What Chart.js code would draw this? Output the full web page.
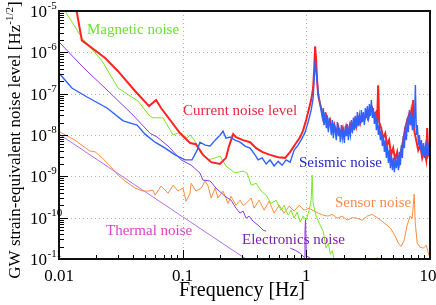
<!DOCTYPE html>
<html>
<head>
<meta charset="utf-8">
<script src="https://cdn.jsdelivr.net/npm/chart.js@4/dist/chart.umd.min.js"></script>
<style>
  body { margin: 0; background: #fff; }
  canvas { display: block; }
</style>
</head>
<body>
<canvas id="chart" width="436" height="305"></canvas>
<script>
// DATOS (frecuencia en Hz, nivel en Hz^-1/2)
var currentFreq = [0.0135, 0.0153, 0.0236, 0.030, 0.0412, 0.0535, 0.061, 0.0669, 0.0953, 0.115,
  0.128, 0.146, 0.170, 0.200, 0.224, 0.237, 0.256, 0.270, 0.308, 0.351,
  0.393, 0.439, 0.509, 0.592, 0.674, 0.740, 0.827, 0.891, 0.942, 0.996,
  1.054, 1.094, 1.135, 1.156, 1.178, 1.200, 1.223, 1.246, 1.293, 1.343,
  1.39, 1.446, 1.50, 1.558, 1.617, 1.679, 1.742, 1.81, 1.876, 1.95,
  2.02, 2.10, 2.18, 2.26, 2.35, 2.44, 2.53, 2.62, 2.72, 2.83,
  2.94, 3.05, 3.16, 3.28, 3.40, 3.54, 3.67, 3.74, 3.81, 3.88,
  4.03, 4.18, 4.35, 4.50, 4.67, 4.85, 5.04, 5.23, 5.43, 5.63,
  5.85, 6.07, 6.30, 6.54, 6.79, 6.91, 7.04, 7.18, 7.31, 7.45,
  7.73, 8.03, 8.33, 8.65, 8.98, 9.32, 9.49, 9.67, 10];
var currentLevel = [1.6e-5, 1.95e-6, 7.3e-7, 3.5e-7, 1.16e-7, 5.0e-8, 7.0e-8, 4.5e-8, 1.1e-8, 6.4e-9,
  6.0e-9, 3.3e-9, 2.2e-9, 2.0e-9, 2.8e-9, 5.4e-9, 1.05e-8, 8.9e-9, 7.5e-9, 6.7e-9,
  4.8e-9, 3.9e-9, 3.3e-9, 2.9e-9, 2.8e-9, 3.9e-9, 6.4e-9, 8.9e-9, 1.3e-8, 2.3e-8,
  4.5e-8, 7.0e-8, 1.37e-7, 3.7e-7, 1.4e-6, 6.5e-7, 2.1e-7, 9.2e-8, 5.6e-8, 3.6e-8,
  2.05e-8, 2.9e-8, 1.64e-8, 2.3e-8, 1.3e-8, 1.84e-8, 1.17e-8, 1.64e-8, 1.05e-8, 1.47e-8,
  9.4e-9, 1.64e-8, 1.1e-8, 1.84e-8, 1.3e-8, 2.3e-8, 1.55e-8, 2.6e-8, 1.84e-8, 2.9e-8,
  2.2e-8, 3.4e-8, 2.4e-8, 3.8e-8, 4.5e-8, 3.0e-8, 3.6e-8, 2.3e-8, 1.6e-7, 2.05e-8,
  1.47e-8, 8.4e-9, 1.1e-8, 5.7e-9, 7.5e-9, 3.3e-9, 4.8e-9, 2.5e-9, 3.9e-9, 2.1e-9,
  4.3e-9, 7.5e-9, 1.47e-8, 2.3e-8, 3.2e-8, 2.3e-8, 3.6e-8, 1.74e-8, 7.0e-8, 1.3e-8,
  7.5e-9, 4.3e-9, 5.7e-9, 2.8e-9, 4.3e-9, 2.5e-9, 1.47e-8, 3.3e-9, 4.3e-9];

var seismicFreq = [0.01, 0.0127, 0.01685, 0.02445, 0.033, 0.0428, 0.0496, 0.0598, 0.0721, 0.0868,
  0.1045, 0.119, 0.131, 0.138, 0.152, 0.167, 0.183, 0.201, 0.212, 0.224,
  0.242, 0.265, 0.291, 0.320, 0.351, 0.385, 0.407, 0.439, 0.473, 0.509,
  0.549, 0.592, 0.637, 0.686, 0.740, 0.797, 0.858, 0.925, 0.978, 1.034,
  1.094, 1.135, 1.178, 1.20, 1.246, 1.298,
  1.347, 1.372, 1.398, 1.424, 1.451, 1.479, 1.507, 1.535, 1.564, 1.594,
  1.624, 1.654, 1.685, 1.717, 1.749, 1.782, 1.816, 1.849, 1.884, 1.920,
  1.956, 1.993, 2.030, 2.068, 2.107, 2.147, 2.187, 2.228, 2.270, 2.313,
  2.357, 2.401, 2.446, 2.492, 2.539, 2.587, 2.635, 2.685, 2.735, 2.786,
  2.839, 2.892, 2.947, 3.002, 3.058, 3.116, 3.174, 3.234, 3.295, 3.357,
  3.420, 3.484, 3.550, 3.616, 3.684, 3.754, 3.824, 3.896, 3.970, 4.044,
  4.120, 4.198, 4.277, 4.357, 4.439, 4.523, 4.608, 4.694, 4.783, 4.873,
  4.964, 5.058, 5.152, 5.249, 5.348, 5.448, 5.551, 5.655, 5.762, 5.870,
  5.980, 6.093, 6.207, 6.324, 6.443, 6.564, 6.687, 6.813, 6.941, 7.071,
  7.204, 7.339, 7.478, 7.618, 7.762, 7.907, 8.056, 8.207, 8.362, 8.519,
  8.679, 8.842, 9.008, 9.178, 9.350, 9.526, 9.707, 9.888, 10.0];
var seismicLevel = [3.15e-7, 1.37e-7, 8.3e-8, 4.5e-8, 2.2e-8, 1.74e-8, 1.05e-8, 6.7e-9, 4.8e-9, 3.3e-9,
  2.5e-9, 2.5e-9, 4.3e-9, 6.7e-9, 5.7e-9, 5.4e-9, 7.5e-9, 1.0e-8, 1.24e-8, 8.4e-9,
  8.9e-9, 7.5e-9, 6.7e-9, 5.4e-9, 4.8e-9, 3.3e-9, 2.5e-9, 2.8e-9, 2.0e-9, 2.5e-9,
  1.78e-9, 2.3e-9, 1.85e-9, 2.5e-9, 2.2e-9, 4.3e-9, 5.7e-9, 8.4e-9, 1.17e-8, 2.05e-8,
  4.0e-8, 7.8e-8, 6.5e-7, 3.3e-7, 1.09e-7, 5.0e-8,
  2.6e-8, 4.5e-8, 1.74e-8, 3.6e-8, 1.47e-8, 3.0e-8, 1.17e-8, 2.6e-8, 1.64e-8, 1.0e-8,
  2.3e-8, 8.4e-9, 1.84e-8, 1.1e-8, 7.5e-9, 2.05e-8, 9.4e-9, 1.47e-8, 6.7e-9, 1.74e-8,
  8.4e-9, 1.3e-8, 6.4e-9, 1.64e-8, 9.4e-9, 1.84e-8, 7.5e-9, 1.47e-8, 1.0e-8, 2.3e-8,
  1.1e-8, 2.6e-8, 1.3e-8, 2.9e-8, 1.47e-8, 3.6e-8, 1.64e-8, 3.0e-8, 1.84e-8, 4.0e-8,
  2.05e-8, 3.6e-8, 1.74e-8, 4.5e-8, 2.6e-8, 5.0e-8, 2.2e-8, 5.6e-8, 2.9e-8, 7.0e-8,
  2.6e-8, 4.5e-8, 1.84e-8, 3.6e-8, 1.3e-8, 2.6e-8, 1.0e-8, 1.74e-8, 7.5e-9, 1.3e-8,
  5.4e-9, 9.4e-9, 3.9e-9, 7.5e-9, 2.8e-9, 5.7e-9, 2.1e-9, 4.3e-9, 1.58e-9, 3.3e-9,
  1.41e-9, 2.8e-9, 1.26e-9, 2.5e-9, 1.58e-9, 3.3e-9, 1.41e-9, 3.9e-9, 1.87e-9, 5.7e-9,
  2.8e-9, 9.4e-9, 4.8e-9, 1.64e-8, 7.5e-9, 2.6e-8, 1.17e-8, 4.0e-8, 1.74e-8, 3.6e-8,
  1.3e-8, 3.0e-8, 1.47e-8, 1.62e-7, 1.0e-8, 1.74e-8, 5.7e-9, 1.0e-8, 4.3e-9, 7.5e-9,
  3.3e-9, 6.4e-9, 2.8e-9, 5.7e-9, 3.9e-9, 7.5e-9, 3.3e-9, 5.7e-9, 4.3e-9];

var magneticFreq = [0.01, 0.0112, 0.0154, 0.0223, 0.030, 0.0436, 0.0535, 0.0576, 0.0694, 0.0836,
  0.0953, 0.1085, 0.1148, 0.126, 0.141, 0.1605, 0.183, 0.201, 0.224, 0.265,
  0.308, 0.332, 0.358, 0.393, 0.431, 0.473, 0.519, 0.570, 0.625, 0.661,
  0.713, 0.754, 0.797, 0.842, 0.891, 0.942, 0.996, 1.054, 1.094, 1.114,
  1.135, 1.20, 1.27, 1.368, 1.446, 1.507, 1.564, 1.624, 1.685, 1.749,
  3.70, 3.75, 3.80];
var magneticLevel = [1.65e-5, 1.0e-5, 2.2e-6, 6.2e-7, 1.37e-7, 6.6e-8, 3.0e-8, 2.6e-8, 2.6e-8, 1.0e-8,
  1.17e-8, 8.4e-9, 1.0e-8, 7.1e-9, 3.6e-9, 2.5e-9, 2.8e-9, 3.1e-9, 1.77e-9, 1.2e-9,
  1.34e-9, 1.2e-9, 6.1e-10, 6.8e-10, 4.4e-10, 3.5e-10, 2.2e-10, 2.65e-10, 1.5e-10, 2.0e-10,
  1.15e-10, 1.5e-10, 9.7e-11, 1.36e-10, 7.8e-11, 1.09e-10, 8.7e-11, 1.5e-10, 2.65e-10, 1.07e-9,
  2.2e-10, 1.09e-10, 7.4e-11, 4.7e-11, 1.83e-11, 2.4e-11, 1.3e-11, 1.6e-11, 8.4e-12, 4e-12,
  8e-12, 1.1e-11, 8e-12];

var electronicsFreq = [0.01, 0.0156, 0.0259, 0.0398, 0.0545, 0.0621, 0.0762, 0.0971, 0.117, 0.138,
  0.146, 0.167, 0.186, 0.220, 0.246, 0.270, 0.291, 0.308, 0.326, 0.345,
  0.371, 0.407, 0.447, 0.473, 0.60, 0.740, 0.813, 0.891, 0.96, 0.975,
  0.985, 1.0, 1.073, 1.135, 1.2];
var electronicsLevel = [1.78e-6, 4.4e-7, 1.04e-7, 3.0e-8, 1.1e-8, 8.9e-9, 5.4e-9, 2.5e-9, 1.87e-9, 1.2e-9,
  8.1e-10, 7.7e-10, 5.2e-10, 3.3e-10, 2.65e-10, 1.7e-10, 1.29e-10, 1.44e-10, 9.7e-11, 1.09e-10,
  8.2e-11, 6.6e-11, 5.0e-11, 4.7e-11, null, 1.83e-11, 1.63e-11, 1.38e-11, 1.1e-11, 4.5e-11,
  9.5e-11, 1.2e-11, 1.05e-11, 8.4e-12, 5e-12];

var sensorFreq = [0.01, 0.0106, 0.0135, 0.0156, 0.0178, 0.0196, 0.0223, 0.0259, 0.030, 0.0342,
  0.0412, 0.0478, 0.0525, 0.0576, 0.0598, 0.0669, 0.0762, 0.0836, 0.0918, 0.1007,
  0.1065, 0.1148, 0.117, 0.128, 0.141, 0.152, 0.1605, 0.170, 0.183, 0.193,
  0.212, 0.233, 0.246, 0.270, 0.291, 0.308, 0.326, 0.358, 0.378, 0.415,
  0.456, 0.50, 0.549, 0.603, 0.661, 0.726, 0.797, 0.874, 0.96, 1.054,
  1.156, 1.246, 1.368, 1.50, 1.617, 1.775, 1.948, 2.138, 2.345, 2.576,
  2.828, 3.11, 3.405, 3.74, 4.18, 4.78, 5.23, 5.55, 5.85, 6.18,
  6.54, 6.91, 7.18, 7.45, 7.59, 7.88, 8.33, 8.84, 9.32, 9.67, 10];
var sensorLevel = [1.24e-8, 1.1e-8, 7.5e-9, 5.4e-9, 4.1e-9, 3.9e-9, 2.8e-9, 1.78e-9, 1.07e-9, 7.7e-10,
  5.2e-10, 4.4e-10, 4.4e-10, 4.6e-10, 3.5e-10, 5.8e-10, 3.9e-10, 6.1e-10, 4.4e-10, 5.2e-10,
  2.5e-10, 3.9e-10, 6.8e-10, 4.4e-10, 5.2e-10, 7.7e-10, 5.8e-10, 3.0e-10, 5.2e-10, 3.0e-10,
  4.4e-10, 2.2e-10, 3.3e-10, 2.0e-10, 2.65e-10, 2.0e-10, 2.2e-10, 3.0e-10, 1.7e-10, 2.65e-10,
  1.52e-10, 2.5e-10, 1.29e-10, 2.0e-10, 1.29e-10, 1.9e-10, 1.44e-10, 2.0e-10, 1.52e-10, 1.7e-10,
  1.44e-10, 1.29e-10, 1.15e-10, 1.09e-10, 1.2e-10, 9.7e-11, 1.09e-10, 8.7e-11, 1.0e-10, 9.7e-11,
  8.7e-11, 1.09e-10, 1.2e-10, 1.0e-10, 7.8e-11, 5.6e-11, 3.6e-11, 2.4e-11, 2.0e-11, 2.85e-11,
  6.6e-11, 1.09e-10, 9.7e-11, 3.7e-10, 7.8e-11, 2.4e-11, 1.93e-11, 1.83e-11, 2.16e-11, 1.46e-11, 1.05e-11];

var thermalFreq = [0.01, 0.1, 0.4];
var thermalLevel = [1.05e-8, 1.05e-10, 6.6e-12];

// ejes
var xTickLabels = ['0.01', '0.1', '1', '10'];
var xTickValues = [0.01, 0.1, 1, 10];
var yTickExponents = [-5, -6, -7, -8, -9, -10, -11];

var FONT = '"Liberation Serif", "DejaVu Serif", serif';

function puntos(fs, vs) {
  return fs.map(function (f, i) { return { x: f, y: vs[i] }; });
}

function serie(fs, vs, color, ancho, orden) {
  return {
    data: puntos(fs, vs),
    showLine: true,
    borderColor: color,
    borderWidth: ancho,
    pointRadius: 0,
    clip: 0,
    order: orden
  };
}

// textos, rejilla, marcas y bordes
var decorado = {
  id: 'decorado',
  beforeDatasetsDraw: function (chart) {
    var ctx = chart.ctx, a = chart.chartArea, sx = chart.scales.x, sy = chart.scales.y;
    ctx.save();
    ctx.strokeStyle = '#b4b4b4';
    ctx.lineWidth = 1;
    ctx.setLineDash([1, 3]);
    [0.1, 1].forEach(function (v) {
      var p = Math.round(sx.getPixelForValue(v)) + 0.5;
      ctx.beginPath(); ctx.moveTo(p, a.top); ctx.lineTo(p, a.bottom); ctx.stroke();
    });
    [1e-10, 1e-9, 1e-8, 1e-7, 1e-6].forEach(function (v) {
      var p = Math.round(sy.getPixelForValue(v)) + 0.5;
      ctx.beginPath(); ctx.moveTo(a.left, p); ctx.lineTo(a.right, p); ctx.stroke();
    });
    ctx.restore();
  },
  afterDraw: function (chart) {
    var ctx = chart.ctx, a = chart.chartArea, sx = chart.scales.x, sy = chart.scales.y;
    ctx.save();

    // marcas hacia dentro
    ctx.strokeStyle = '#000';
    ctx.lineWidth = 1;
    for (var k = -2; k <= 0; k++) {
      for (var m = 1; m <= 9; m++) {
        var px = Math.round(sx.getPixelForValue(m * Math.pow(10, k))) + 0.5;
        var len = m === 1 ? 9 : 4;
        ctx.beginPath(); ctx.moveTo(px, a.bottom); ctx.lineTo(px, a.bottom - len); ctx.stroke();
      }
    }
    for (var e = -11; e <= -6; e++) {
      for (var n = 1; n <= 9; n++) {
        var py = Math.round(sy.getPixelForValue(n * Math.pow(10, e))) + 0.5;
        var l2 = n === 1 ? 9 : 5;
        ctx.beginPath(); ctx.moveTo(a.left, py); ctx.lineTo(a.left + l2, py); ctx.stroke();
      }
    }

    // borde
    ctx.lineWidth = 2;
    ctx.strokeStyle = '#111';
    ctx.strokeRect(a.left, a.top, a.right - a.left, a.bottom - a.top);

    // etiquetas de los ejes
    ctx.fillStyle = '#000';
    ctx.textBaseline = 'alphabetic';
    ctx.font = '17px ' + FONT;
    ctx.textAlign = 'center';
    xTickValues.forEach(function (v, i) {
      var p = sx.getPixelForValue(v);
      if (v === 10) p -= 2;
      ctx.fillText(xTickLabels[i], p, 281);
    });
    yTickExponents.forEach(function (ex) {
      var p = sy.getPixelForValue(Math.pow(10, ex));
      ctx.font = '17px ' + FONT;
      ctx.textAlign = 'right';
      ctx.fillText('10', 47, p + 6);
      ctx.font = '11px ' + FONT;
      ctx.textAlign = 'left';
      ctx.fillText('-' + Math.abs(ex), 47.5, p - 2);
    });

    // titulo eje x
    ctx.font = '20px ' + FONT;
    ctx.textAlign = 'center';
    ctx.fillText('Frequency [Hz]', 242, 296);

    // titulo eje y, con exponente
    ctx.save();
    ctx.translate(20, 140);
    ctx.rotate(-Math.PI / 2);
    var t1 = 'GW strain-equivalent noise level [Hz', t2 = '-1/2', t3 = ']';
    ctx.font = '17px ' + FONT;
    var w1 = ctx.measureText(t1).width, w3 = ctx.measureText(t3).width;
    ctx.font = '11px ' + FONT;
    var w2 = ctx.measureText(t2).width;
    var x0 = -(w1 + w2 + w3) / 2;
    ctx.textAlign = 'left';
    ctx.font = '17px ' + FONT;
    ctx.fillText(t1, x0, 0);
    ctx.font = '11px ' + FONT;
    ctx.fillText(t2, x0 + w1, -7);
    ctx.font = '17px ' + FONT;
    ctx.fillText(t3, x0 + w1 + w2, 0);
    ctx.restore();

    // nombres de las curvas
    ctx.font = '15px ' + FONT;
    ctx.textAlign = 'left';
    [
      ['Magnetic noise', '#6ee030', 87, 34],
      ['Current noise level', '#e8283c', 183, 115],
      ['Seismic noise', '#2828c8', 299, 167],
      ['Sensor noise', '#ff8a50', 335, 207],
      ['Thermal noise', '#e040c8', 106, 235],
      ['Electronics noise', '#8020b0', 242, 244]
    ].forEach(function (t) {
      ctx.fillStyle = t[1];
      ctx.fillText(t[0], t[2], t[3]);
    });

    ctx.restore();
  }
};

var miGrafica = new Chart(document.getElementById('chart'), {
  type: 'scatter',
  data: {
    datasets: [
      serie(seismicFreq, seismicLevel, '#3062ff', 1.4, 1),
      serie(currentFreq, currentLevel, '#ff2222', 2, 2),
      serie(magneticFreq, magneticLevel, '#7ae62a', 1, 3),
      serie(electronicsFreq, electronicsLevel, '#8c3ce6', 1, 4),
      serie(sensorFreq, sensorLevel, '#ff8c40', 1, 5),
      serie(thermalFreq, thermalLevel, '#b070ff', 1, 6)
    ]
  },
  options: {
    responsive: false,
    animation: false,
    layout: { padding: { left: 59, right: 6, top: 11, bottom: 46 } },
    plugins: { legend: { display: false }, tooltip: { enabled: false } },
    scales: {
      x: { type: 'logarithmic', min: 0.01, max: 10, display: false },
      y: { type: 'logarithmic', min: 1e-11, max: 1e-5, display: false }
    },
    elements: { line: { tension: 0 } }
  },
  plugins: [decorado]
});
</script>
</body>
</html>
